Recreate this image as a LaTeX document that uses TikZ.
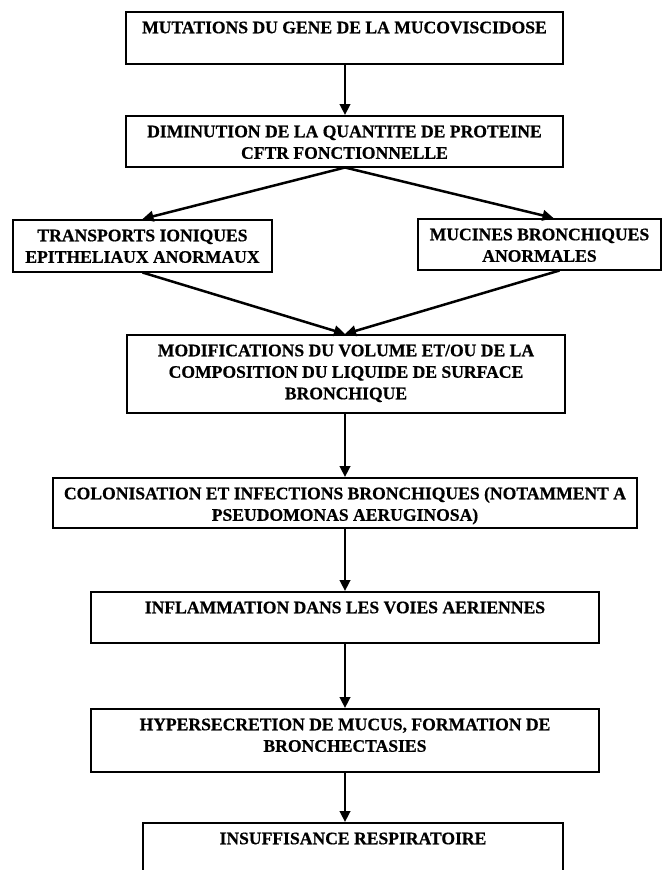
\documentclass[tikz,border=0pt]{standalone}
\usepackage{fontspec}
\setmainfont{Liberation Serif}[BoldFeatures={FakeBold=0.6}]
\usetikzlibrary{arrows.meta,calc}

% top-aligned text block of a given width and height
\newcommand{\celltext}[3]{\parbox[t][#2][t]{#1}{\centering\rule{0pt}{21.5pt}#3}}

\tikzset{
  cell/.style={draw, line width=1.5pt, inner sep=0pt, anchor=north,
    font=\fontsize{17.6}{21.5}\selectfont\bfseries},
  flow/.style={line width=2.5pt, -{Triangle[length=11pt,width=10.5pt]}}
}

\begin{document}
\begin{tikzpicture}[x=1pt,y=-1pt]
  \useasboundingbox (0,0) rectangle (664,870);
  \fill[white] (0,0) rectangle (664,870);
  \clip (0,0) rectangle (664,870);

  \node[cell] (b1) at (344.5,11)
    {\celltext{437pt}{52pt}{MUTATIONS DU GENE DE LA MUCOVISCIDOSE}};
  \node[cell] (b2) at (344.5,115)
    {\celltext{437pt}{51pt}{DIMINUTION DE LA QUANTITE DE PROTEINE\\CFTR FONCTIONNELLE}};
  \node[cell] (b3) at (142.5,219)
    {\celltext{259pt}{52pt}{TRANSPORTS IONIQUES\\EPITHELIAUX ANORMAUX}};
  \node[cell] (b4) at (539.5,218)
    {\celltext{243pt}{51pt}{MUCINES BRONCHIQUES\\ANORMALES}};
  \node[cell] (b5) at (346,334)
    {\celltext{438pt}{78pt}{MODIFICATIONS DU VOLUME ET/OU DE LA\\COMPOSITION DU LIQUIDE DE SURFACE\\BRONCHIQUE}};
  \node[cell] (b6) at (345,477)
    {\celltext{584pt}{50pt}{COLONISATION ET INFECTIONS BRONCHIQUES (NOTAMMENT A\\PSEUDOMONAS AERUGINOSA)}};
  \node[cell] (b7) at (345,591)
    {\celltext{508pt}{51pt}{INFLAMMATION DANS LES VOIES AERIENNES}};
  \node[cell] (b8) at (345,708)
    {\celltext{508pt}{63pt}{HYPERSECRETION DE MUCUS, FORMATION DE\\BRONCHECTASIES}};
  \node[cell] (b9) at (353,822)
    {\celltext{420pt}{60pt}{INSUFFISANCE RESPIRATOIRE}};

  \draw[flow] (b1.south -| 345,0) -- (b2.north -| 345,0);
  \draw[flow] (b2.south -| 345,0) -- (b3.north);
  \draw[flow] (b2.south -| 345,0) -- ([xshift=14pt]b4.north);
  \draw[flow] (b3.south) -- (b5.north -| 345,0);
  \draw[flow] ([xshift=20pt]b4.south) -- (b5.north -| 345,0);
  \draw[flow] (b5.south -| 345,0) -- (b6.north);
  \draw[flow] (b6.south) -- (b7.north);
  \draw[flow] (b7.south) -- (b8.north);
  \draw[flow] (b8.south) -- (b9.north -| 345,0);
\end{tikzpicture}
\end{document}
